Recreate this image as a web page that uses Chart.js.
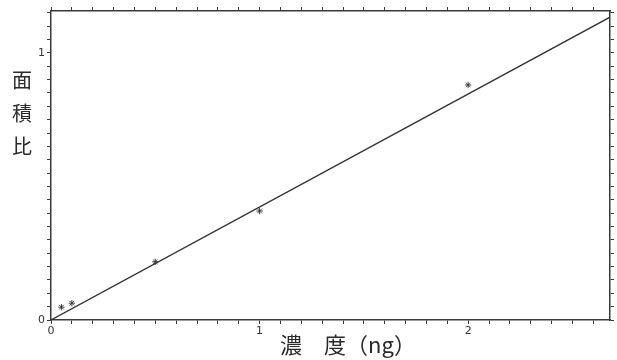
<!DOCTYPE html>
<html>
<head>
<meta charset="utf-8">
<script src="https://cdn.jsdelivr.net/npm/chart.js@4/dist/chart.umd.min.js"></script>
<style>
  html, body { margin: 0; padding: 0; background: #fff; }
  #wrap { width: 617px; height: 360px; position: relative; }
</style>
</head>
<body>
<div id="wrap"><canvas id="c" width="617" height="360"></canvas></div>
<script>
// ---- data ----
const concentration = [0.05, 0.1, 0.5, 1, 2];          // ng
const areaRatio     = [0.048, 0.063, 0.218, 0.408, 0.88];
const fitLineX = [0, 2.68];
const fitLineY = [0, 1.134];
const xMajorTicks = [0, 1, 2];
const yMajorTicks = [0, 1];
const xAxisTitle = '濃　度（ng）';
const yAxisTitleChars = ['面', '積', '比'];

const X_MAX = 2.68, Y_MAX = 1.157;
const X_MINOR = 0.1, Y_MINOR = 0.05;
const INK = '#3a3a3a';

function minorTicks(max, step) {
  const out = [];
  for (let i = 0; i * step <= max + 1e-9; i++) out.push({ value: +(i * step).toFixed(4) });
  return out;
}
function majorLabel(majors) {
  return function (v) {
    const r = Math.round(v);
    return (Math.abs(v - r) < 1e-6 && majors.includes(r)) ? String(r) : '';
  };
}

const titlePlugin = {
  id: 'titles',
  afterDraw(chart) {
    const ctx = chart.ctx;
    ctx.save();
    ctx.fillStyle = '#2a2a2a';
    ctx.font = '20px "Noto Sans CJK JP", "Noto Sans CJK SC", sans-serif';
    ctx.textAlign = 'center';
    ctx.textBaseline = 'middle';
    yAxisTitleChars.forEach((ch, i) => ctx.fillText(ch, 22, 80 + i * 33));
    ctx.font = '22px "Noto Sans CJK JP", "Noto Sans CJK SC", sans-serif';
    ctx.fillText(xAxisTitle, 348, 345);
    ctx.restore();
  }
};

const axisBase = (pos) => ({
  type: 'linear',
  position: pos,
  grid: { drawOnChartArea: false, drawTicks: true, tickLength: 4, color: INK, tickColor: INK, lineWidth: 1 },
  border: { display: true, color: INK, width: 1.5 },
});

new Chart(document.getElementById('c'), {
  type: 'scatter',
  data: {
    datasets: [
      {
        label: 'fit',
        data: fitLineX.map((x, i) => ({ x, y: fitLineY[i] })),
        showLine: true,
        borderColor: '#333',
        borderWidth: 1.3,
        pointRadius: 0,
        fill: false
      },
      {
        label: 'measured',
        data: concentration.map((x, i) => ({ x, y: areaRatio[i] })),
        pointStyle: 'star',
        pointRadius: 3.2,
        borderColor: '#333',
        backgroundColor: '#333',
        pointBorderWidth: 0.9,
        showLine: false
      }
    ]
  },
  options: {
    responsive: false,
    animation: false,
    devicePixelRatio: 1,
    layout: { padding: 0 },
    plugins: { legend: { display: false }, tooltip: { enabled: false } },
    scales: {
      x: Object.assign(axisBase('bottom'), {
        min: 0, max: X_MAX,
        afterBuildTicks: s => { s.ticks = minorTicks(X_MAX, X_MINOR); },
        afterFit: s => { s.height = 40; },
        ticks: { autoSkip: false, maxRotation: 0, padding: 1, color: '#333',
                 font: { family: 'DejaVu Sans', size: 11 }, callback: majorLabel(xMajorTicks) }
      }),
      y: Object.assign(axisBase('left'), {
        min: 0, max: Y_MAX,
        afterBuildTicks: s => { s.ticks = minorTicks(Y_MAX, Y_MINOR); },
        afterFit: s => { s.width = 51; },
        ticks: { autoSkip: false, padding: 2, color: '#333',
                 font: { family: 'DejaVu Sans', size: 11 }, callback: majorLabel(yMajorTicks) }
      }),
      x2: Object.assign(axisBase('top'), {
        min: 0, max: X_MAX,
        afterBuildTicks: s => { s.ticks = minorTicks(X_MAX, X_MINOR); },
        afterFit: s => { s.height = 11; },
        ticks: { autoSkip: false, maxRotation: 0, callback: () => '' }
      }),
      y2: Object.assign(axisBase('right'), {
        min: 0, max: Y_MAX,
        afterBuildTicks: s => { s.ticks = minorTicks(Y_MAX, Y_MINOR); },
        afterFit: s => { s.width = 7; },
        ticks: { autoSkip: false, callback: () => '' }
      })
    }
  },
  plugins: [titlePlugin]
});
</script>
</body>
</html>
